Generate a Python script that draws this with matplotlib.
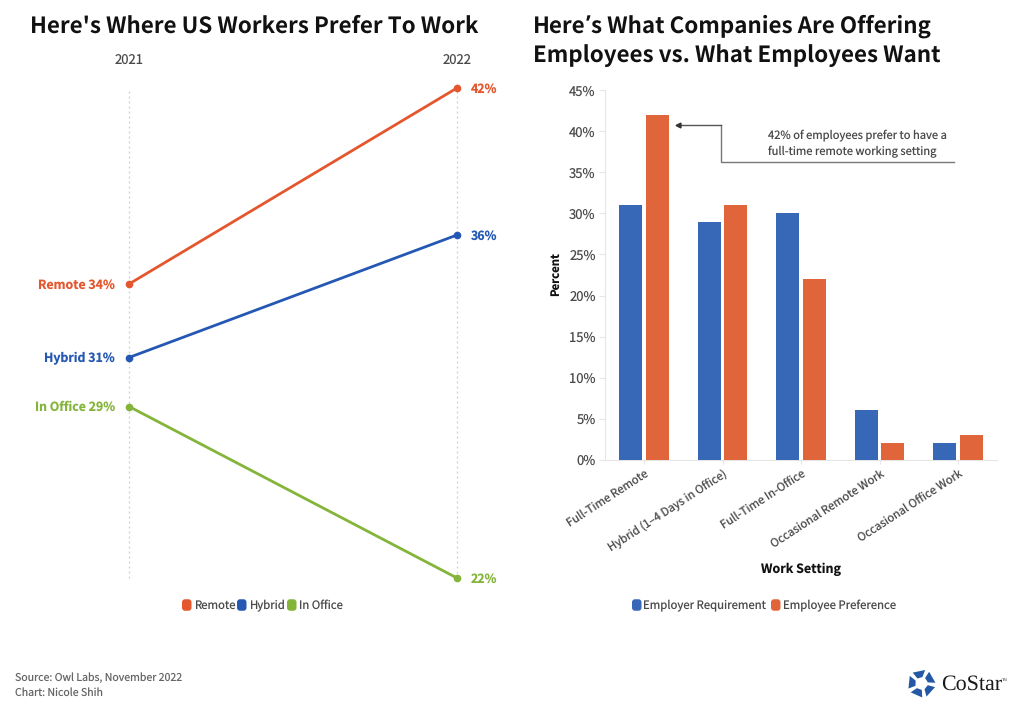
import math
import matplotlib
matplotlib.use("Agg")
import matplotlib.pyplot as plt
from matplotlib.patches import Polygon, FancyBboxPatch

plt.rcParams['font.family'] = ['Noto Sans CJK SC', 'DejaVu Sans']
plt.rcParams['text.hinting'] = 'no_hinting'
plt.rcParams['text.hinting_factor'] = 1

# Data
years = ["2021", "2022"]
slope_names = ["Remote", "Hybrid", "In Office"]
remote = [34, 42]
hybrid = [31, 36]
in_office = [29, 22]
categories = ["Full-Time Remote", "Hybrid (1–4 Days in Office)", "Full-Time In-Office",
              "Occasional Remote Work", "Occasional Office Work"]
employer = [31, 29, 30, 6, 2]
employee = [42, 31, 22, 2, 3]
yticks = [0, 5, 10, 15, 20, 25, 30, 35, 40, 45]

W, H = 1030, 713
DPI = 100
ORANGE, BLUE, GREEN = "#E4572E", "#2458B3", "#84B53A"
BAR_BLUE, BAR_ORANGE = "#3768B7", "#E0653B"
TXT = "#4a4a4a"
TITLE_SIZE = 16.1

fig = plt.figure(figsize=(W / DPI, H / DPI), dpi=DPI, facecolor="white")
renderer = fig.canvas.get_renderer()

def px_axes(x0, y0, x1, y1):
    return fig.add_axes([x0 / W, 1 - y1 / H, (x1 - x0) / W, (y1 - y0) / H])

def ftext(x, y, s, **kw):
    return fig.text(x / W, 1 - y / H, s, **kw)

title_kw = dict(fontsize=TITLE_SIZE, fontweight="bold", color="#111111", va="center", ha="left")

# Titles
ftext(30, 26, "Here's Where US Workers Prefer To Work", **title_kw)
# the CJK family sets the curly apostrophe full-width, so it comes from a Latin family
x = 533
for piece, fam in (("Here", None), ("’", "Open Sans"), ("s What Companies Are Offering", None)):
    kw = dict(title_kw)
    if fam:
        kw["family"] = fam
    t = ftext(x, 26, piece, **kw)
    x = t.get_window_extent(renderer).x1 + 0.5
ftext(533, 56, "Employees vs. What Employees Want", **title_kw)

# Slope chart
ax = px_axes(129, 88, 457, 578)
ax.set_xlim(0, 1)
ax.set_ylim(22, 42)
ax.axis("off")
for x in (0, 1):
    ax.plot([x, x], [22, 42], color="#cfcfcf", lw=0.9, ls=(0, (1.5, 2.5)), zorder=1, clip_on=False)
for name, vals, c in zip(slope_names, (remote, hybrid, in_office), (ORANGE, BLUE, GREEN)):
    ax.plot([0, 1], vals, color=c, lw=2, marker="o", ms=4.5, clip_on=False, zorder=3)
    ax.annotate(f"{name} {vals[0]}%", (0, vals[0]), xytext=(-10, -3.3), textcoords="offset points",
                ha="right", va="baseline", color=c, fontsize=8.9, fontweight="bold")
    ax.annotate(f"{vals[1]}%", (1, vals[1]), xytext=(10, -3.3), textcoords="offset points",
                ha="left", va="baseline", color=c, fontsize=8.9, fontweight="bold")
for x, y in zip((0, 1), years):
    ax.annotate(y, (x, 42), xytext=(0, 15.3), textcoords="offset points", ha="center", va="bottom",
                color=TXT, fontsize=9.4)

# Legend helper
def legend(items, y):
    for x, tx, s, c in items:
        w, h = 9.5, 11.5
        fig.add_artist(FancyBboxPatch((x, H - y - h / 2), w, h,
                                      boxstyle="round,pad=0,rounding_size=3", facecolor=c,
                                      edgecolor="none", transform=None))
        ftext(tx, y + 4.2, s, fontsize=8.2, color=TXT, va="baseline", ha="left")

legend([(182, 194, slope_names[0], ORANGE), (237, 249, slope_names[1], BLUE),
        (287, 299, slope_names[2], GREEN)], 605)

# Bars
bx = px_axes(604.8, 90.5, 997.3, 459.5)
bx.set_xlim(-0.5, 4.5)
bx.set_ylim(0, 45)
pos = list(range(len(categories)))
bw = 0.295
gap = 0.34
bx.bar([p - gap / 2 for p in pos], employer, bw, color=BAR_BLUE, zorder=3)
bx.bar([p + gap / 2 for p in pos], employee, bw, color=BAR_ORANGE, zorder=3)
for s in ("top", "right"):
    bx.spines[s].set_visible(False)
for s in ("left", "bottom"):
    bx.spines[s].set_color("#e6e6e6")
bx.set_yticks(yticks)
bx.set_yticklabels([f"{v}%" for v in yticks], fontsize=9.4, color=TXT)
bx.tick_params(axis="y", length=4.5, color="#e6e6e6", pad=2)
bx.tick_params(axis="x", length=3, color="#e6e6e6", pad=3)
bx.set_xticks(pos)
bx.set_xticklabels(categories, rotation=33, ha="right", rotation_mode="anchor",
                   fontsize=8.2, color=TXT)
ftext(555, 274, "Percent", fontsize=8.2, fontweight="bold", color="#111111",
      rotation=90, ha="center", va="center")
ftext(801, 569, "Work Setting", fontsize=9.0, fontweight="bold", color="#111111",
      ha="center", va="center")

# Callout
fig.add_artist(plt.Line2D([721 / W, 721 / W, 954 / W], [1 - 124.5 / H, 1 - 162 / H, 1 - 162 / H],
                          color="#777777", lw=1))
fig.add_artist(plt.Line2D([680 / W, 721 / W], [1 - 124.5 / H, 1 - 124.5 / H], color="#555555", lw=1))
fig.add_artist(plt.Line2D([678 / W], [1 - 124.5 / H], marker="<", ms=3.5, color="#333333", ls="none"))
ftext(768, 135.5, "42% of employees prefer to have a", fontsize=8.05, color=TXT, va="center", ha="left")
ftext(768, 151.5, "full-time remote working setting", fontsize=8.05, color=TXT, va="center", ha="left")

legend([(632, 643, "Employer Requirement", BAR_BLUE), (771, 783, "Employee Preference", BAR_ORANGE)], 605)

# Footer
ftext(15, 678, "Source: Owl Labs, November 2022", fontsize=7.6, color="#666666", va="center", ha="left")
ftext(15, 693, "Chart: Nicole Shih", fontsize=7.6, color="#666666", va="center", ha="left")

# Logo
cx, cy = 921.5, 683.5
R0, R1 = 6.5, 14.0
for k in range(5):
    a = math.radians(-102 + 72 * k)
    d = math.radians(27)
    pts = [(cx + R1 * math.cos(a - d), cy + R1 * math.sin(a - d)),
           (cx + R1 * math.cos(a + d), cy + R1 * math.sin(a + d)),
           (cx + R0 * math.cos(a + d * 0.75), cy + R0 * math.sin(a + d * 0.75)),
           (cx + R0 * math.cos(a - d), cy + R0 * math.sin(a - d))]
    fig.add_artist(Polygon([(x / W, 1 - y / H) for x, y in pts], closed=True,
                           transform=fig.transFigure, facecolor="#2458A6", edgecolor="none"))
fig.text(941 / W, 1 - 684 / H, "CoStar", family="Liberation Serif", fontsize=15.5,
         color="#1a1a1a", va="center", ha="left")
fig.text(1002 / W, 1 - 680 / H, "TM", family="Liberation Sans", fontsize=3, color="#333333",
         va="center", ha="left")

fig.savefig("out.png", dpi=DPI, facecolor="white")
